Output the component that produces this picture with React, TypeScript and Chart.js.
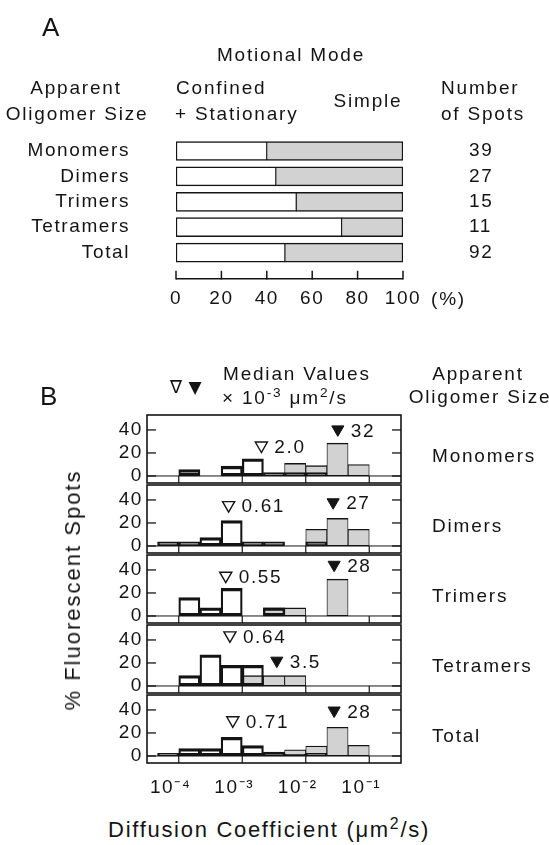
import React, { useEffect, useRef } from "react";
import { Chart, registerables } from "chart.js";

Chart.register(...registerables);

const FONT_FAMILY = '"Liberation Sans", Arial, Helvetica, sans-serif';
const INK = "#141414";
const GREY = "#d2d2d2";

// ---------------- Panel A data ----------------
const oligomerSizes = ["Monomers", "Dimers", "Trimers", "Tetramers", "Total"];
const confinedStationaryPct = [40, 44, 53, 73, 48];
const simplePct = [60, 56, 47, 27, 52];
const spotCounts = ["39", "27", "15", "11", "92"];
const percentTicks = [0, 20, 40, 60, 80, 100];

// ---------------- Panel B data ----------------
// bin centres (µm²/s), 1/3-decade bins
const binCentres = [6.81e-5, 1.468e-4, 3.162e-4, 6.813e-4, 1.468e-3, 3.162e-3, 6.813e-3, 1.468e-2, 3.162e-2, 6.813e-2];
const decadeTicks = [1e-4, 1e-3, 1e-2, 1e-1];
const decadeLabels = ["10⁻⁴", "10⁻³", "10⁻²", "10⁻¹"];
const spotPctTicks = [0, 20, 40];

const monomersConfined = [0, 5.5, 0, 8.5, 15, 3, 3, 3, 0, 0];
const monomersSimple = [0, 0, 0, 0, 0, 0, 11, 9, 28.5, 10];
const dimersConfined = [3.7, 3.7, 7.4, 22, 3.7, 3.7, 0, 3.7, 0, 0];
const dimersSimple = [0, 0, 0, 0, 0, 0, 0, 14.5, 24, 14.5];
const trimersConfined = [0, 16, 7, 24, 0, 7, 0, 0, 0, 0];
const trimersSimple = [0, 0, 0, 0, 0, 7, 7, 0, 32, 0];
const tetramersConfined = [0, 9, 27, 18, 18, 0, 0, 0, 0, 0];
const tetramersSimple = [0, 0, 0, 0, 9, 9, 9, 0, 0, 0];
const totalConfined = [2.2, 6.5, 6.5, 16.3, 9, 3.3, 1.5, 2.2, 0, 0];
const totalSimple = [0, 0, 0, 0, 0, 2.2, 5.4, 8.7, 25, 9.3];

// median values, ×10⁻³ µm²/s
const medianConfined = ["2.0", "0.61", "0.55", "0.64", "0.71"];
const medianSimple = ["32", "27", "28", "3.5", "28"];
// height (in % units) at which each median marker is placed
const confinedMarkerLevel = [26.5, 35.5, 35, 44, 31];
const simpleMarkerLevel = [40.5, 38, 44.5, 22, 39.5];

const histConfined = [monomersConfined, dimersConfined, trimersConfined, tetramersConfined, totalConfined];
const histSimple = [monomersSimple, dimersSimple, trimersSimple, tetramersSimple, totalSimple];

const font = (size: number) => ({ family: FONT_FAMILY, size, weight: "normal" as const });

const noPad = (s: any) => {
  s.paddingTop = 0;
  s.paddingBottom = 0;
  s.paddingLeft = 0;
  s.paddingRight = 0;
};

// ---------------- Panel A chart ----------------
function panelAConfig(): any {
  const axisPlugin = {
    id: "axisA",
    beforeDraw(chart: any) {
      chart.ctx.letterSpacing = "1.6px";
    },
    afterDraw(chart: any) {
      const { ctx, chartArea: a } = chart;
      const x = chart.scales.x;
      const yAxis = a.bottom + 13.5;
      ctx.save();
      ctx.strokeStyle = INK;
      ctx.lineWidth = 1.5;
      ctx.beginPath();
      ctx.moveTo(x.getPixelForValue(0), yAxis);
      ctx.lineTo(x.getPixelForValue(100), yAxis);
      ctx.stroke();
      percentTicks.forEach((v) => {
        const px = x.getPixelForValue(v);
        ctx.beginPath();
        ctx.moveTo(px, yAxis - 8);
        ctx.lineTo(px, yAxis + 0.7);
        ctx.stroke();
      });
      ctx.restore();
    },
  };
  return {
    type: "bar",
    data: {
      labels: oligomerSizes,
      datasets: [
        {
          label: "Confined + Stationary",
          data: confinedStationaryPct,
          backgroundColor: "#ffffff",
          borderColor: INK,
          borderWidth: { top: 1.5, bottom: 1.5, left: 1.5, right: 1 },
          borderSkipped: false,
          barThickness: 19,
        },
        {
          label: "Simple",
          data: simplePct,
          backgroundColor: GREY,
          borderColor: INK,
          borderWidth: { top: 1.5, bottom: 1.5, left: 0.8, right: 1.5 },
          borderSkipped: false,
          barThickness: 19,
        },
      ],
    },
    options: {
      indexAxis: "y",
      animation: false,
      responsive: false,
      events: [],
      layout: { padding: { top: 138.3, left: 0, right: 0, bottom: 0 } },
      plugins: { legend: { display: false }, tooltip: { enabled: false } },
      scales: {
        x: {
          stacked: true,
          min: 0,
          max: 100,
          afterBuildTicks: (s: any) => {
            s.ticks = percentTicks.map((v) => ({ value: v }));
          },
          grid: { display: false, drawTicks: false },
          border: { display: false },
          ticks: { font: font(19), color: INK, padding: 22, maxRotation: 0, autoSkip: false },
          afterFit: (s: any) => {
            s.height = 320 - 265.3;
            noPad(s);
          },
        },
        y: {
          stacked: true,
          grid: { display: false, drawTicks: false },
          border: { display: false },
          ticks: { font: font(19), color: INK, padding: 46, autoSkip: false },
          afterFit: (s: any) => {
            s.width = 176;
            noPad(s);
          },
        },
        y2: {
          type: "category",
          labels: spotCounts,
          position: "right",
          offset: true,
          grid: { display: false, drawTicks: false, offset: true },
          border: { display: false },
          ticks: { font: font(19), color: INK, padding: 66, autoSkip: false },
          afterFit: (s: any) => {
            s.width = 549 - 403;
            noPad(s);
          },
        },
      },
    },
    plugins: [axisPlugin],
  };
}

// ---------------- Panel B charts ----------------
function histConfig(i: number, showX: boolean): any {
  const frame = {
    id: "histFrame",
    beforeDraw(chart: any) {
      chart.ctx.letterSpacing = "1.6px";
    },
    afterDatasetsDraw(chart: any) {
      const { ctx, chartArea: a } = chart;
      const x = chart.scales.x;
      const y = chart.scales.y;
      const seg = (x1: number, y1: number, x2: number, y2: number, w: number) => {
        ctx.lineWidth = w;
        ctx.beginPath();
        ctx.moveTo(x1, y1);
        ctx.lineTo(x2, y2);
        ctx.stroke();
      };
      ctx.save();
      ctx.strokeStyle = INK;
      const y0 = y.getPixelForValue(0);
      seg(a.left, y0, a.right, y0, 1);
      decadeTicks.forEach((v) => {
        const px = x.getPixelForValue(v);
        seg(px, y0, px, a.bottom, 1.2);
      });
      spotPctTicks.forEach((v) => {
        const py = y.getPixelForValue(v);
        seg(a.left, py, a.left + 9, py, 1.3);
        seg(a.right - 9, py, a.right, py, 1.3);
      });
      ctx.lineWidth = 1.6;
      ctx.strokeRect(a.left, a.top, a.right - a.left, a.bottom - a.top);
      ctx.fillStyle = INK;
      ctx.font = `19px ${FONT_FAMILY}`;
      ctx.textAlign = "left";
      ctx.textBaseline = "middle";
      [0, 1].forEach((di) => {
        const pt = chart.getDatasetMeta(di).data[0];
        const label = chart.data.datasets[di].medianLabel;
        if (pt) ctx.fillText(label, pt.x + 13, pt.y + 2);
      });
      ctx.restore();
    },
  };
  const conf = histConfined[i];
  const simp = histSimple[i];
  return {
    type: "bar",
    data: {
      datasets: [
        {
          type: "scatter",
          label: "Median (confined + stationary)",
          medianLabel: medianConfined[i],
          data: [{ x: parseFloat(medianConfined[i]) * 1e-3, y: confinedMarkerLevel[i] }],
          pointStyle: "triangle",
          rotation: 180,
          radius: 7,
          backgroundColor: "#ffffff",
          borderColor: INK,
          borderWidth: 1.4,
          order: 0,
        },
        {
          type: "scatter",
          label: "Median (simple)",
          medianLabel: medianSimple[i],
          data: [{ x: parseFloat(medianSimple[i]) * 1e-3, y: simpleMarkerLevel[i] }],
          pointStyle: "triangle",
          rotation: 180,
          radius: 7,
          backgroundColor: INK,
          borderColor: INK,
          borderWidth: 1,
          order: 0,
        },
        {
          label: "Confined + Stationary",
          data: binCentres.map((c, k) => ({ x: c, y: conf[k] > 0 ? conf[k] : null })),
          backgroundColor: "rgba(255,255,255,0)",
          borderColor: INK,
          borderWidth: { top: 2.6, bottom: 2.6, left: 1.6, right: 1.6 },
          borderSkipped: false,
          grouped: false,
          categoryPercentage: 1,
          barPercentage: 1,
          order: 1,
        },
        {
          label: "Simple",
          data: binCentres.map((c, k) => ({ x: c, y: simp[k] > 0 ? simp[k] : null })),
          backgroundColor: GREY,
          borderColor: INK,
          borderWidth: { top: 1.4, bottom: 1.4, left: 0.9, right: 0.9 },
          borderSkipped: false,
          grouped: false,
          categoryPercentage: 1,
          barPercentage: 1,
          order: 2,
        },
      ],
    },
    options: {
      animation: false,
      responsive: false,
      events: [],
      layout: { padding: { top: 10, left: 0, right: 549 - 401, bottom: showX ? 0 : 10 } },
      plugins: { legend: { display: false }, tooltip: { enabled: false } },
      scales: {
        x: {
          type: "logarithmic",
          min: Math.pow(10, -4.5),
          max: Math.pow(10, -0.5),
          offset: false,
          display: showX,
          grid: { display: false, drawTicks: false, offset: false },
          border: { display: false },
          afterBuildTicks: (s: any) => {
            s.ticks = decadeTicks.map((v) => ({ value: v, major: true }));
          },
          ticks: {
            font: font(19),
            color: INK,
            padding: 13,
            labelOffset: -8,
            maxRotation: 0,
            autoSkip: false,
            callback: (_v: any, idx: number) => decadeLabels[idx],
          },
          afterFit: (s: any) => {
            s.height = showX ? 40 : 0;
            noPad(s);
          },
        },
        y: {
          min: -6.1,
          max: 53,
          grid: { display: false, drawTicks: false },
          border: { display: false },
          afterBuildTicks: (s: any) => {
            s.ticks = spotPctTicks.map((v) => ({ value: v }));
          },
          ticks: { font: font(19), color: INK, padding: 4, autoSkip: false },
          afterFit: (s: any) => {
            s.width = 147;
            noPad(s);
          },
        },
      },
    },
    plugins: [frame],
  };
}

function ChartCanvas({ make, left, top, width, height }: any) {
  const ref = useRef<HTMLCanvasElement | null>(null);
  useEffect(() => {
    if (!ref.current) return;
    const chart = new Chart(ref.current, make());
    return () => chart.destroy();
  }, []);
  return (
    <canvas
      ref={ref}
      width={width}
      height={height}
      style={{ position: "absolute", left, top, width, height }}
    />
  );
}

function Txt({ x, y, size = 19, align = "left", spacing = "1.8px", family, children }: any) {
  const tx = align === "center" ? "-50%" : align === "right" ? "-100%" : "0";
  return (
    <div
      style={{
        position: "absolute",
        left: x,
        top: y,
        fontSize: size,
        lineHeight: 1,
        whiteSpace: "nowrap",
        letterSpacing: spacing,
        fontFamily: family || FONT_FAMILY,
        transform: `translate(${tx}, -50%)`,
      }}
    >
      {children}
    </div>
  );
}

const sup = (s: string) => (
  <span style={{ fontSize: "0.72em", position: "relative", top: "-0.5em" }}>{s}</span>
);

export default function App() {
  const panelTop = (i: number) => 415 + 70 * i;
  return (
    <div
      style={{
        position: "absolute",
        left: 0,
        top: 0,
        width: 549,
        height: 845,
        overflow: "hidden",
        background: "#ffffff",
        color: INK,
        fontFamily: FONT_FAMILY,
      }}
    >
      <ChartCanvas make={panelAConfig} left={0} top={0} width={549} height={320} />
      {[0, 1, 2, 3, 4].map((i) => (
        <ChartCanvas
          key={i}
          make={() => histConfig(i, i === 4)}
          left={0}
          top={panelTop(i) - 10}
          width={549}
          height={i === 4 ? 118 : 88}
        />
      ))}

      {/* Panel A texts */}
      <Txt x={42} y={27} size={26} spacing="0px">A</Txt>
      <Txt x={291} y={54} align="center">Motional Mode</Txt>
      <Txt x={76} y={87} align="center">Apparent</Txt>
      <Txt x={77} y={113} align="center">Oligomer Size</Txt>
      <Txt x={176} y={87}>Confined</Txt>
      <Txt x={175} y={113}>+ Stationary</Txt>
      <Txt x={368} y={100} align="center">Simple</Txt>
      <Txt x={441} y={87}>Number</Txt>
      <Txt x={441} y={113}>of Spots</Txt>
      <Txt x={431} y={298}>(%)</Txt>

      {/* Panel B texts */}
      <Txt x={40} y={396} size={26} spacing="0px">B</Txt>
      <Txt x={176} y={387} size={18} align="center" spacing="0px" family='"DejaVu Sans"'>∇</Txt>
      <Txt x={195} y={387} size={17} align="center" spacing="0px" family='"DejaVu Sans"'>▼</Txt>
      <Txt x={223} y={373}>Median Values</Txt>
      <Txt x={222} y={397}>
        × 10{sup("-3")} μm{sup("2")}/s
      </Txt>
      <Txt x={478} y={373} align="center">Apparent</Txt>
      <Txt x={480} y={396} align="center">Oligomer Size</Txt>
      {oligomerSizes.map((n, i) => (
        <Txt key={n} x={432} y={panelTop(i) + 40}>
          {n}
        </Txt>
      ))}
      <div
        style={{
          position: "absolute",
          left: 73,
          top: 590,
          fontSize: 22,
          lineHeight: 1,
          whiteSpace: "nowrap",
          letterSpacing: "2px",
          transform: "translate(-50%, -50%) rotate(-90deg)",
        }}
      >
        % Fluorescent Spots
      </div>
      <Txt x={269} y={830} size={22} align="center" spacing="1.7px">
        Diffusion Coefficient (μm{sup("2")}/s)
      </Txt>
    </div>
  );
}
